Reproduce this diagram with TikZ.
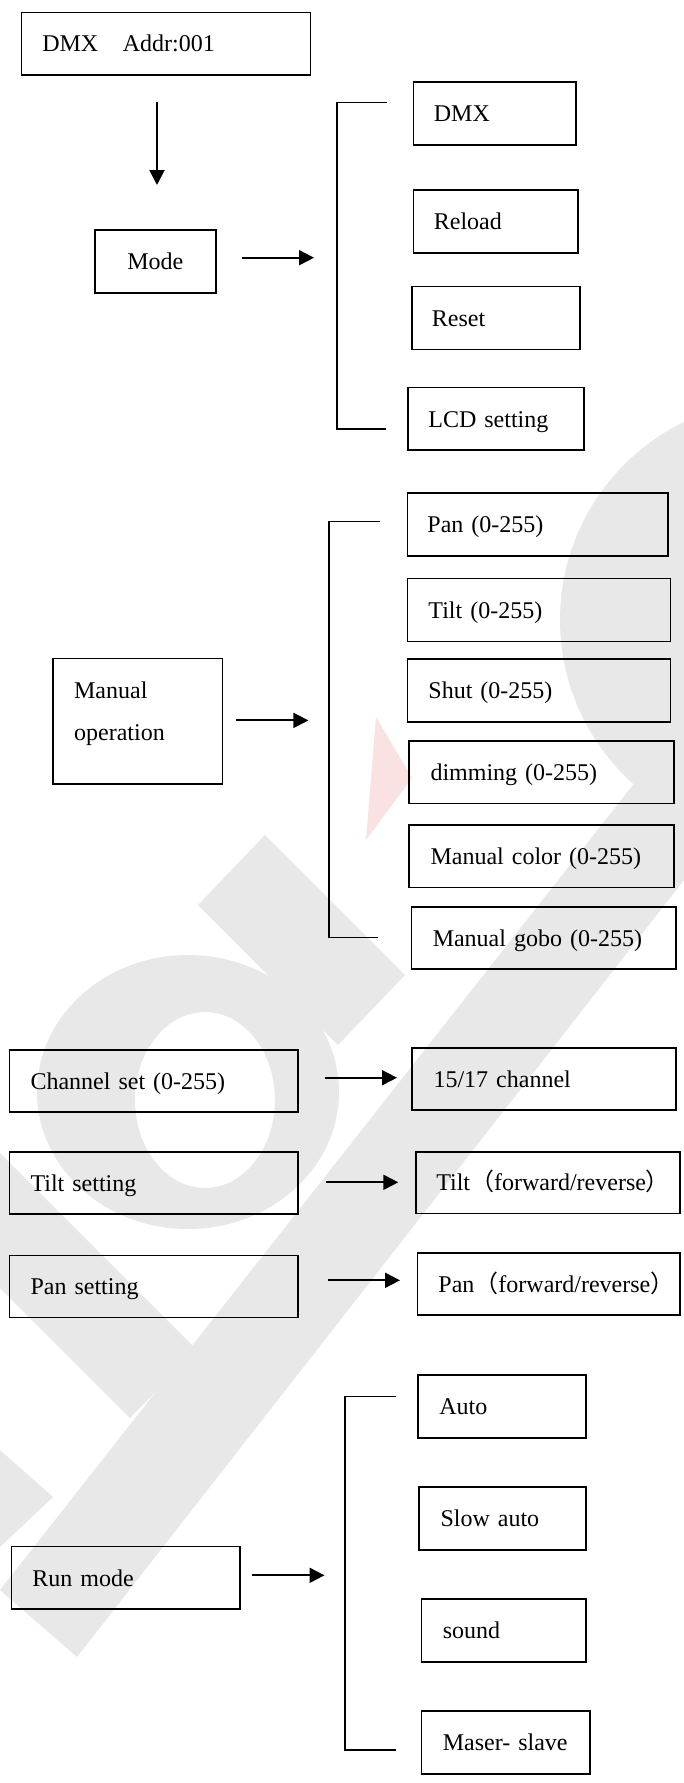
\documentclass[tikz,border=0pt]{standalone}
\usepackage{fontspec}
\setmainfont{Liberation Serif}
\newfontfamily\cjkfont{Noto Sans CJK JP}
\usetikzlibrary{arrows.meta}
\newcommand{\fpl}{{\cjkfont （}}
\newcommand{\fpr}{{\cjkfont ）}}
\definecolor{wm}{RGB}{232,232,232}
\definecolor{wmred}{RGB}{250,226,226}
\begin{document}
\begin{tikzpicture}[x=1pt,y=-1pt,
  bx/.style n args={3}{draw=black, line width=1.7pt, rectangle, anchor=north west,
     inner ysep=0pt, inner xsep=#3, text width=#1, minimum height=#2, align=left,
     text height=16.5pt, text depth=0pt, font=\fontsize{24}{28.8}\selectfont},
  arr/.style={-{Triangle[length=15pt,width=15pt]}, line width=1.9pt},
  brk/.style={line width=1.4pt}]
\useasboundingbox[fill=white] (0,0) rectangle (684,1783);

% faint background watermark
\begin{scope}
\clip (0,0) rectangle (684,1783);
\fill[wm] (780,620) circle (220);
\fill[wmred] (376,717) -- (366,840) -- (412,778) -- cycle;
\fill[wm] (198,905) -- (265,835) -- (405,975) -- (338,1045) -- cycle;
\fill[wm, even odd rule] (188,1092) ellipse [x radius=151, y radius=137]
                         (205,1100) ellipse [x radius=70, y radius=88];
\fill[wm] (0,1153) -- (197,1350) -- (130,1418) -- (0,1288) -- cycle;
\fill[wm] (0,1450) -- (53,1497) -- (0,1547) -- cycle;
\fill[wm] (0,1590) -- (77,1657) -- (684,880) -- (684,720) -- cycle;
\end{scope}

% top group
\node[bx={247.4pt}{62.3pt}{20.9pt}] (addr) at (20.5,11.7) {DMX\hspace*{24.6pt}Addr:001};
\node[bx={56pt}{63pt}{32.5pt}] (mode) at (94,229.3) {Mode};
\node[bx={122.1pt}{63.3pt}{20.3pt}] (dmx) at (412.7,81) {DMX};
\node[bx={123.7pt}{62.7pt}{20.3pt}] (reload) at (412.7,189.3) {Reload};
\node[bx={128pt}{63pt}{20pt}] (reset) at (411,285.7) {Reset};
\node[bx={135pt}{62.6pt}{20.5pt}] (lcd) at (407,386.7) {LCD setting};

\coordinate (a1s) at (157,101.7); \coordinate (a1e) at (157,185);
\draw[arr] (a1s) -- (a1e);
\coordinate (a2s) at (242,257.7); \coordinate (a2e) at (314,257.7);
\draw[arr] (a2s) -- (a2e);
\coordinate (b1a) at (387,102.7); \coordinate (b1b) at (337,102.7);
\coordinate (b1c) at (337,429); \coordinate (b1d) at (386,429);
\draw[brk] (b1a) -- (b1b) -- (b1c) -- (b1d);

% manual operation group
\node[bx={127.3pt}{125.6pt}{21pt}, text height=16.5pt, text depth=61.3pt,
      font=\fontsize{24}{41.4}\selectfont] (manop) at (52.3,657.6) {Manual\\operation};
\node[bx={220.8pt}{62.5pt}{20pt}] (pan) at (406.6,492.4) {Pan (0-255)};
\node[bx={221pt}{62.8pt}{21pt}] (tilt) at (406.6,577.7) {Tilt (0-255)};
\node[bx={221pt}{62.8pt}{21pt}] (shut) at (406.6,658) {Shut (0-255)};
\node[bx={221.9pt}{62.5pt}{21.4pt}] (dim) at (408.3,740) {dimming (0-255)};
\node[bx={221.9pt}{62.8pt}{21.4pt}] (color) at (408.3,823.9) {Manual color (0-255)};
\node[bx={221.7pt}{62.4pt}{21.4pt}] (gobo) at (410.5,906) {Manual gobo (0-255)};

\coordinate (a3s) at (236,720.4); \coordinate (a3e) at (308.4,720.4);
\draw[arr] (a3s) -- (a3e);
\coordinate (b2a) at (379.5,521.2); \coordinate (b2b) at (329,521.2);
\coordinate (b2c) at (329,937.5); \coordinate (b2d) at (377.8,937.5);
\draw[brk] (b2a) -- (b2b) -- (b2c) -- (b2d);

% settings
\node[bx={246.3pt}{62pt}{21pt}] (chset) at (8.7,1049) {Channel set (0-255)};
\node[bx={220.9pt}{62.3pt}{21.7pt}] (ch) at (411,1047) {15/17 channel};
\node[bx={246.3pt}{62.3pt}{21pt}] (tiltset) at (8.7,1151) {Tilt setting};
\node[bx={223.3pt}{61.7pt}{20.5pt}] (tiltfr) at (414.9,1151) {Tilt\fpl forward/reverse\fpr};
\node[bx={246.3pt}{62pt}{21pt}] (panset) at (8.7,1254.7) {Pan setting};
\node[bx={220.6pt}{62pt}{21pt}] (panfr) at (416.6,1252.3) {Pan\fpl forward/reverse\fpr};

\coordinate (a4s) at (324.5,1077.7); \coordinate (a4e) at (397,1077.7);
\draw[arr] (a4s) -- (a4e);
\coordinate (a5s) at (326.3,1182.3); \coordinate (a5e) at (398.3,1182.3);
\draw[arr] (a5s) -- (a5e);
\coordinate (a6s) at (328,1280.3); \coordinate (a6e) at (400,1280.3);
\draw[arr] (a6s) -- (a6e);

% run mode
\node[bx={186.5pt}{62.6pt}{21pt}] (run) at (10.5,1545.7) {Run mode};
\node[bx={125.6pt}{62.7pt}{21.4pt}] (auto) at (417,1374.3) {Auto};
\node[bx={124.3pt}{62.7pt}{21.4pt}] (slow) at (418.3,1486.3) {Slow auto};
\node[bx={121.9pt}{63pt}{21.5pt}] (sound) at (420.5,1598.3) {sound};
\node[bx={125.8pt}{62.7pt}{21.5pt}] (master) at (420.5,1710.3) {Maser- slave};

\coordinate (a7s) at (252,1575.3); \coordinate (a7e) at (324.5,1575.3);
\draw[arr] (a7s) -- (a7e);
\coordinate (b3a) at (395.7,1396.3); \coordinate (b3b) at (345,1396.3);
\coordinate (b3c) at (345,1750); \coordinate (b3d) at (395.7,1750);
\draw[brk] (b3a) -- (b3b) -- (b3c) -- (b3d);
\end{tikzpicture}
\end{document}
